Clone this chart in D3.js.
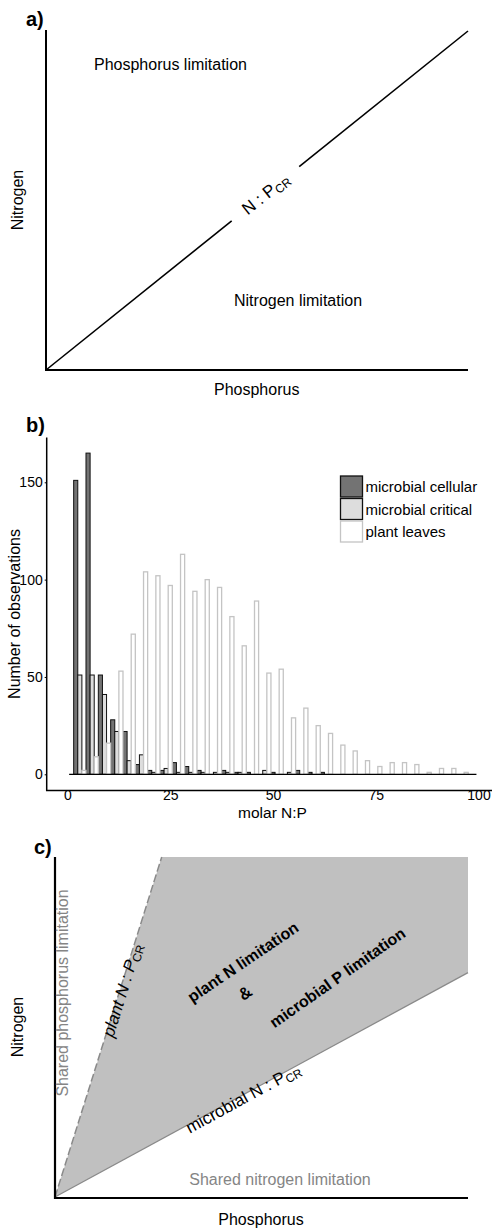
<!DOCTYPE html>
<html>
<head>
<meta charset="utf-8">
<script src="https://cdn.jsdelivr.net/npm/d3@7"></script>
<style>
  body { margin: 0; background: #fff; }
  svg { display: block; font-family: Arial, "Liberation Sans", sans-serif; }
</style>
</head>
<body>
<svg id="fig" width="497" height="1228"></svg>
<script>
// ---- panel b data (histogram of molar N:P, bins of 3) ----
var binCenters = [3, 6, 9, 12, 15, 18, 21, 24, 27, 30, 33, 36, 39, 42, 45, 48,
                  51, 54, 57, 60, 63, 66, 69, 72, 75, 78, 81, 84, 87, 90, 93, 96];
var cellular = [151, 165, 51, 28, 22, 5, 2, 2, 6, 4, 2, 0, 2, 1, 1, 0,
                1, 0, 2, 1, 1, 0, 0, 0, 0, 0, 0, 0, 0, 0, 0, 0];
var critical = [51, 51, 41, 22, 7, 10, 1, 3, 1, 1, 1, 1, 1, 1, 0, 2,
                0, 1, 0, 0, 0, 0, 0, 0, 0, 0, 0, 0, 0, 0, 0, 0];
var leaves   = [2, 9, 16, 53, 72, 104, 102, 97, 113, 94, 100, 96, 81, 66, 89, 52,
                54, 29, 34, 25, 21, 15, 12, 7, 4, 6, 6, 5, 1, 3, 3, 1];
var seriesNames = ["microbial cellular", "microbial critical", "plant leaves"];
var xTicksB = [0, 25, 50, 75, 100];
var yTicksB = [0, 50, 100, 150];
var baselineExtent = [0.4, 99.5];

// ---- panels a and c (conceptual, normalised N and P) ----
var ratioA = 1;            // N:P critical line in panel a
var gapA = [0.44, 0.6];    // part of the line left blank for its label
var plantRatio = 3.87;     // plant N:P critical (panel c)
var microbialRatio = 0.66; // microbial N:P critical (panel c)

var svg = d3.select("#fig");

var fills = ["#737373", "#dddddd", "#ffffff"],
    strokes = ["#111111", "#111111", "#c4c4c4"];

// =================== panel a ===================
var gA = svg.append("g");
var xA = d3.scaleLinear().domain([0, 1]).range([46, 468]);
var yA = d3.scaleLinear().domain([0, 1]).range([370, 31]);

gA.append("text").attr("x", 26).attr("y", 26)
    .style("font-size", "20px").style("font-weight", "bold").text("a)");

gA.append("path")
    .attr("d", "M" + xA(0) + "," + (yA(1) - 1) + "V" + yA(0) + "H" + xA(1))
    .attr("fill", "none").attr("stroke", "#000").attr("stroke-width", 2);

var lineA = d3.line().x(d => xA(d[0])).y(d => yA(d[0] * ratioA));
gA.append("path").attr("d", lineA([[0], [gapA[0]]]))
    .attr("stroke", "#000").attr("stroke-width", 1.6);
gA.append("path").attr("d", lineA([[gapA[1]], [1]]))
    .attr("stroke", "#000").attr("stroke-width", 1.6);

var angA = -Math.atan2(yA(0) - yA(ratioA), xA(1) - xA(0)) * 180 / Math.PI;
var tA = (gapA[0] + gapA[1]) / 2;
var labA = gA.append("text")
    .attr("transform", "translate(" + xA(tA) + "," + yA(tA * ratioA) + ") rotate(" + angA + ")")
    .attr("text-anchor", "middle").attr("dy", "0.35em")
    .style("font-size", "17px");
labA.append("tspan").text("N : P");
labA.append("tspan").attr("dy", 3).style("font-size", "12px").text("CR");

gA.append("text").attr("x", 94).attr("y", 70).style("font-size", "16px").text("Phosphorus limitation");
gA.append("text").attr("x", 234).attr("y", 306).style("font-size", "16px").text("Nitrogen limitation");
gA.append("text").attr("x", 256.7).attr("y", 395).attr("text-anchor", "middle")
    .style("font-size", "16px").text("Phosphorus");
gA.append("text").attr("transform", "translate(23,200) rotate(-90)").attr("text-anchor", "middle")
    .style("font-size", "16px").text("Nitrogen");

// =================== panel b ===================
var gB = svg.append("g");
var xB = d3.scaleLinear().domain([0, 100]).range([67.5, 478.5]);
var yB = d3.scaleLinear().domain([0, 150]).range([774.3, 482.3]);

gB.append("text").attr("x", 26).attr("y", 432)
    .style("font-size", "20px").style("font-weight", "bold").text("b)");

var table = binCenters.map(function (c, i) {
    return { c: c, v: [cellular[i], critical[i], leaves[i]] };
});

[0, 1, 2].forEach(function (k) {
    gB.append("g").selectAll("rect")
        .data(table.filter(d => d.v[k] > 0))
        .enter().append("rect")
        .attr("x", d => xB(d.c - 1.5 + k))
        .attr("width", d => xB(d.c - 0.5 + k) - xB(d.c - 1.5 + k))
        .attr("y", d => yB(d.v[k]))
        .attr("height", d => yB(0) - yB(d.v[k]))
        .attr("fill", fills[k])
        .attr("stroke", strokes[k])
        .attr("stroke-width", k == 2 ? 1.3 : 1);
});

gB.append("line")
    .attr("x1", xB(baselineExtent[0])).attr("x2", xB(baselineExtent[1]))
    .attr("y1", yB(0)).attr("y2", yB(0))
    .attr("stroke", "#000").attr("stroke-width", 1.3);

// axes
gB.append("path").attr("d", "M46.7,437.5V790.5H492")
    .attr("fill", "none").attr("stroke", "#000").attr("stroke-width", 1.5);

var yAx = gB.append("g").attr("transform", "translate(46.7,0)")
    .call(d3.axisLeft(yB).tickValues(yTicksB).tickSize(2).tickPadding(2));
yAx.select(".domain").remove();
yAx.selectAll("text").style("font-size", "14px").attr("font-family", null);

var xAx = gB.append("g").attr("transform", "translate(0,790)")
    .call(d3.axisBottom(xB).tickValues(xTicksB).tickSize(0).tickPadding(0.5));
xAx.select(".domain").remove();
xAx.selectAll("text").style("font-size", "14px").attr("font-family", null);

gB.append("text").attr("x", 272.5).attr("y", 818).attr("text-anchor", "middle")
    .style("font-size", "15.5px").text("molar N:P");
gB.append("text").attr("transform", "translate(20,614) rotate(-90)").attr("text-anchor", "middle")
    .style("font-size", "16px").text("Number of observations");

// legend
var leg = gB.append("g").attr("transform", "translate(340.5,476)");
leg.selectAll("rect").data(seriesNames).enter().append("rect")
    .attr("x", 0).attr("y", (d, i) => i * 22.5)
    .attr("width", 22).attr("height", 21)
    .attr("fill", (d, i) => fills[i]).attr("stroke", (d, i) => strokes[i])
    .attr("stroke-width", 1.3);
leg.selectAll("text").data(seriesNames).enter().append("text")
    .attr("x", 25).attr("y", (d, i) => i * 22.5 + 16)
    .style("font-size", "15px").text(d => d);

// =================== panel c ===================
var gC = svg.append("g");
var xC = d3.scaleLinear().domain([0, 1]).range([55, 468]);
var yC = d3.scaleLinear().domain([0, 1]).range([1197, 857]);

gC.append("text").attr("x", 34).attr("y", 854)
    .style("font-size", "20px").style("font-weight", "bold").text("c)");

var region = [[0, 0], [1 / plantRatio, 1], [1, 1], [1, microbialRatio]];
gC.append("path")
    .attr("d", d3.line().x(d => xC(d[0])).y(d => yC(d[1]))(region) + "Z")
    .attr("fill", "#c0c0c0");

gC.append("line")
    .attr("x1", xC(0)).attr("y1", yC(0))
    .attr("x2", xC(1 / plantRatio)).attr("y2", yC(1))
    .attr("stroke", "#8a8a8a").attr("stroke-width", 1.5).attr("stroke-dasharray", "8,3");
gC.append("line")
    .attr("x1", xC(0)).attr("y1", yC(0))
    .attr("x2", xC(1)).attr("y2", yC(microbialRatio))
    .attr("stroke", "#8a8a8a").attr("stroke-width", 1.3);

gC.append("path")
    .attr("d", "M" + xC(0) + "," + yC(1) + "V" + (yC(0) + 1) + "H" + xC(1))
    .attr("fill", "none").attr("stroke", "#000").attr("stroke-width", 2.2);

var angPlant = -Math.atan2(yC(0) - yC(1), xC(1 / plantRatio) - xC(0)) * 180 / Math.PI;
var angMic = -Math.atan2(yC(0) - yC(microbialRatio), xC(1) - xC(0)) * 180 / Math.PI;

var labP = gC.append("text")
    .attr("transform", "translate(122,990) rotate(" + angPlant + ")")
    .attr("text-anchor", "middle").attr("dy", "0.35em")
    .style("font-size", "17px").style("font-style", "italic");
labP.append("tspan").text("plant N : P");
labP.append("tspan").attr("dy", 3).style("font-size", "12px").style("font-style", "normal").text("CR");

var labM = gC.append("text")
    .attr("transform", "translate(243,1098) rotate(" + angMic + ")")
    .attr("text-anchor", "middle").attr("dy", "0.35em")
    .style("font-size", "17px");
labM.append("tspan").text("microbial N : P");
labM.append("tspan").attr("dy", 3).style("font-size", "12px").text("CR");

gC.append("text").attr("transform", "translate(243,962) rotate(-34)")
    .attr("text-anchor", "middle").attr("dy", "0.35em")
    .style("font-size", "16px").style("font-weight", "bold").text("plant N limitation");
gC.append("text").attr("transform", "translate(245,993) rotate(-34)")
    .attr("text-anchor", "middle").attr("dy", "0.35em")
    .style("font-size", "17px").style("font-weight", "bold").text("&");
gC.append("text").attr("transform", "translate(337.5,977.5) rotate(-35)")
    .attr("text-anchor", "middle").attr("dy", "0.35em")
    .style("font-size", "16px").style("font-weight", "bold").text("microbial P limitation");

gC.append("text").attr("transform", "translate(68,993) rotate(-90)").attr("text-anchor", "middle")
    .attr("fill", "#858585").style("font-size", "16px").text("Shared phosphorus limitation");
gC.append("text").attr("x", 280).attr("y", 1185).attr("text-anchor", "middle")
    .attr("fill", "#858585").style("font-size", "16px").text("Shared nitrogen limitation");

gC.append("text").attr("x", 261).attr("y", 1224.5).attr("text-anchor", "middle")
    .style("font-size", "16px").text("Phosphorus");
gC.append("text").attr("transform", "translate(23,1027) rotate(-90)").attr("text-anchor", "middle")
    .style("font-size", "16px").text("Nitrogen");
</script>
</body>
</html>
